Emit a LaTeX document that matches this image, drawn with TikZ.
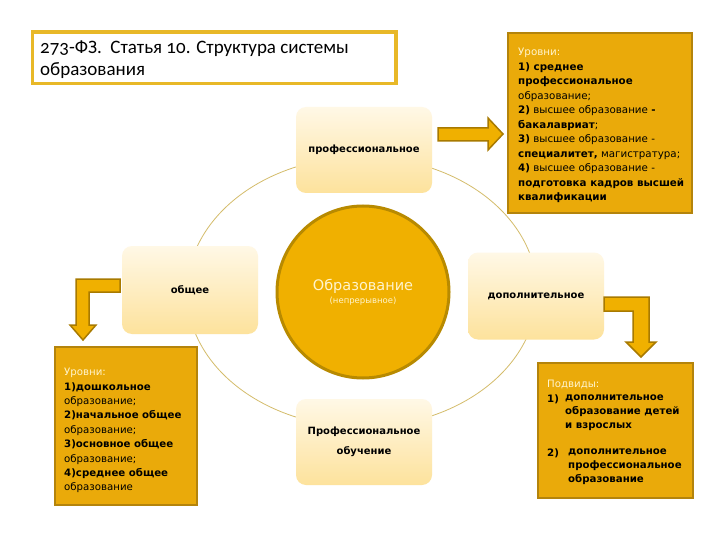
\documentclass[tikz,border=0pt]{standalone}
\usepackage{fontspec}
\usetikzlibrary{calc}
\setmainfont{DejaVu Sans}
\newfontfamily\titlefont[Numbers=OldStyle]{Carlito}
\definecolor{lightA}{HTML}{FFF8E6}
\definecolor{lightB}{HTML}{FDE29C}
\definecolor{boxfill}{HTML}{EAAA0A}
\definecolor{boxedge}{HTML}{B4840C}
\definecolor{circfill}{HTML}{F0B000}
\definecolor{circedge}{HTML}{B88A00}
\definecolor{arrowfill}{HTML}{F0B000}
\definecolor{arrowedge}{HTML}{A87A00}
\definecolor{ringc}{HTML}{D4BC6A}
\definecolor{titleedge}{HTML}{E8B828}
\definecolor{cream}{HTML}{FFF4CC}
\begin{document}
\begin{tikzpicture}[x=1pt,y=-1pt,
 lightbox/.style={rounded corners=10pt, top color=lightA, bottom color=lightB, draw=none,
   minimum width=136pt, minimum height=86pt, align=center,
   font=\fontsize{10}{20}\selectfont\bfseries},
 darkbox/.style={draw=boxedge, line width=2.5pt, fill=boxfill, inner sep=0pt},
 arrowshape/.style={draw=arrowedge, line width=1.5pt, fill=arrowfill, line join=miter},
 info/.style={anchor=north west, inner sep=0pt, align=left, font=\fontsize{10.3}{14.5}\selectfont},
 infob/.style={anchor=north west, inner sep=0pt, align=left, font=\fontsize{10.2}{14}\selectfont\bfseries},
]
\useasboundingbox (0,0) rectangle (720,540);
\fill[white] (0,0) rectangle (720,540);

% ring
\draw[ringc, line width=0.8pt] (362,292) ellipse [x radius=175, y radius=135];

% title
\node[draw=titleedge, line width=3pt, minimum width=364pt, minimum height=52pt, inner sep=0pt, fill=white] (title) at (214,58) {};
\draw[titleedge, line width=0.6pt] ($(title.north west)+(3,3)$) rectangle ($(title.south east)+(-3,-3)$);
\node[anchor=north west, inner sep=0pt, align=left, font=\titlefont\fontsize{19}{22}\selectfont] (titletext) at (40,41)
 {273-ФЗ.\ \ Статья 10. Структура системы\\образования};

% light boxes
\node[lightbox] (prof) at (364,150) {профессиональное};
\node[lightbox, minimum height=88pt] (obsh) at (190,290) {общее};
\node[lightbox, minimum height=87pt] (dop) at (536,296) {дополнительное};
\node[lightbox] (pobuch) at (364,442) {Профессиональное\\обучение};

% central circle
\node[circle, minimum size=172pt, fill=circfill, draw=circedge, line width=3pt, align=center, text=cream] (obr) at (363,292)
 {{\fontsize{14.5}{18}\selectfont Образование}\\[1pt]{\fontsize{8.5}{10}\selectfont (непрерывное)}};

% arrows
\draw[arrowshape] (438,128) -- (488,128) -- (488,118) -- (503,134) -- (488,150) -- (488,141) -- (438,141) -- cycle;
\draw[arrowshape] (120,279) -- (76,279) -- (76,325) -- (70,325) -- (83,340) -- (96,325) -- (89,325) -- (89,292) -- (120,292) -- cycle;
\draw[arrowshape] (604,297) -- (649,297) -- (649,342) -- (656,342) -- (641,357) -- (626,342) -- (633,342) -- (633,311) -- (604,311) -- cycle;

% dark boxes
\node[darkbox, minimum width=184pt, minimum height=180pt] (levprof) at (600,123) {};
\node[info] (levproftext) at (518,48) {\textcolor{cream}{Уровни:}\\
\textbf{1) среднее}\\
\textbf{профессиональное}\\
образование;\\
\textbf{2)} высшее образование \textbf{-}\\
\textbf{бакалавриат};\\
\textbf{3)} высшее образование -\\
\textbf{специалитет,} магистратура;\\
\textbf{4)} высшее образование -\\
\textbf{подготовка кадров высшей}\\
\textbf{квалификации}};

\node[darkbox, minimum width=142pt, minimum height=158pt] (levobsh) at (126,426) {};
\node[info, font=\fontsize{10.2}{14.4}\selectfont] (levobshtext) at (64,368) {\textcolor{cream}{Уровни:}\\
\textbf{1)дошкольное}\\
образование;\\
\textbf{2)начальное общее}\\
образование;\\
\textbf{3)основное общее}\\
образование;\\
\textbf{4)среднее общее}\\
образование};

\node[darkbox, minimum width=155pt, minimum height=135pt] (podv) at (615.5,430.5) {};
\node[infob, font=\fontsize{10.2}{14}\selectfont] (podvhead) at (547,379.5) {\textcolor{cream}{Подвиды:}};
\node[infob] (n1) at (547,394.5) {1)};
\node[infob] (t1) at (565,394.5) {дополнительное\\образование детей\\и взрослых};
\node[infob] (n2) at (547,448.5) {2)};
\node[infob] (t2) at (568,448.5) {дополнительное\\профессиональное\\образование};
\end{tikzpicture}
\end{document}
